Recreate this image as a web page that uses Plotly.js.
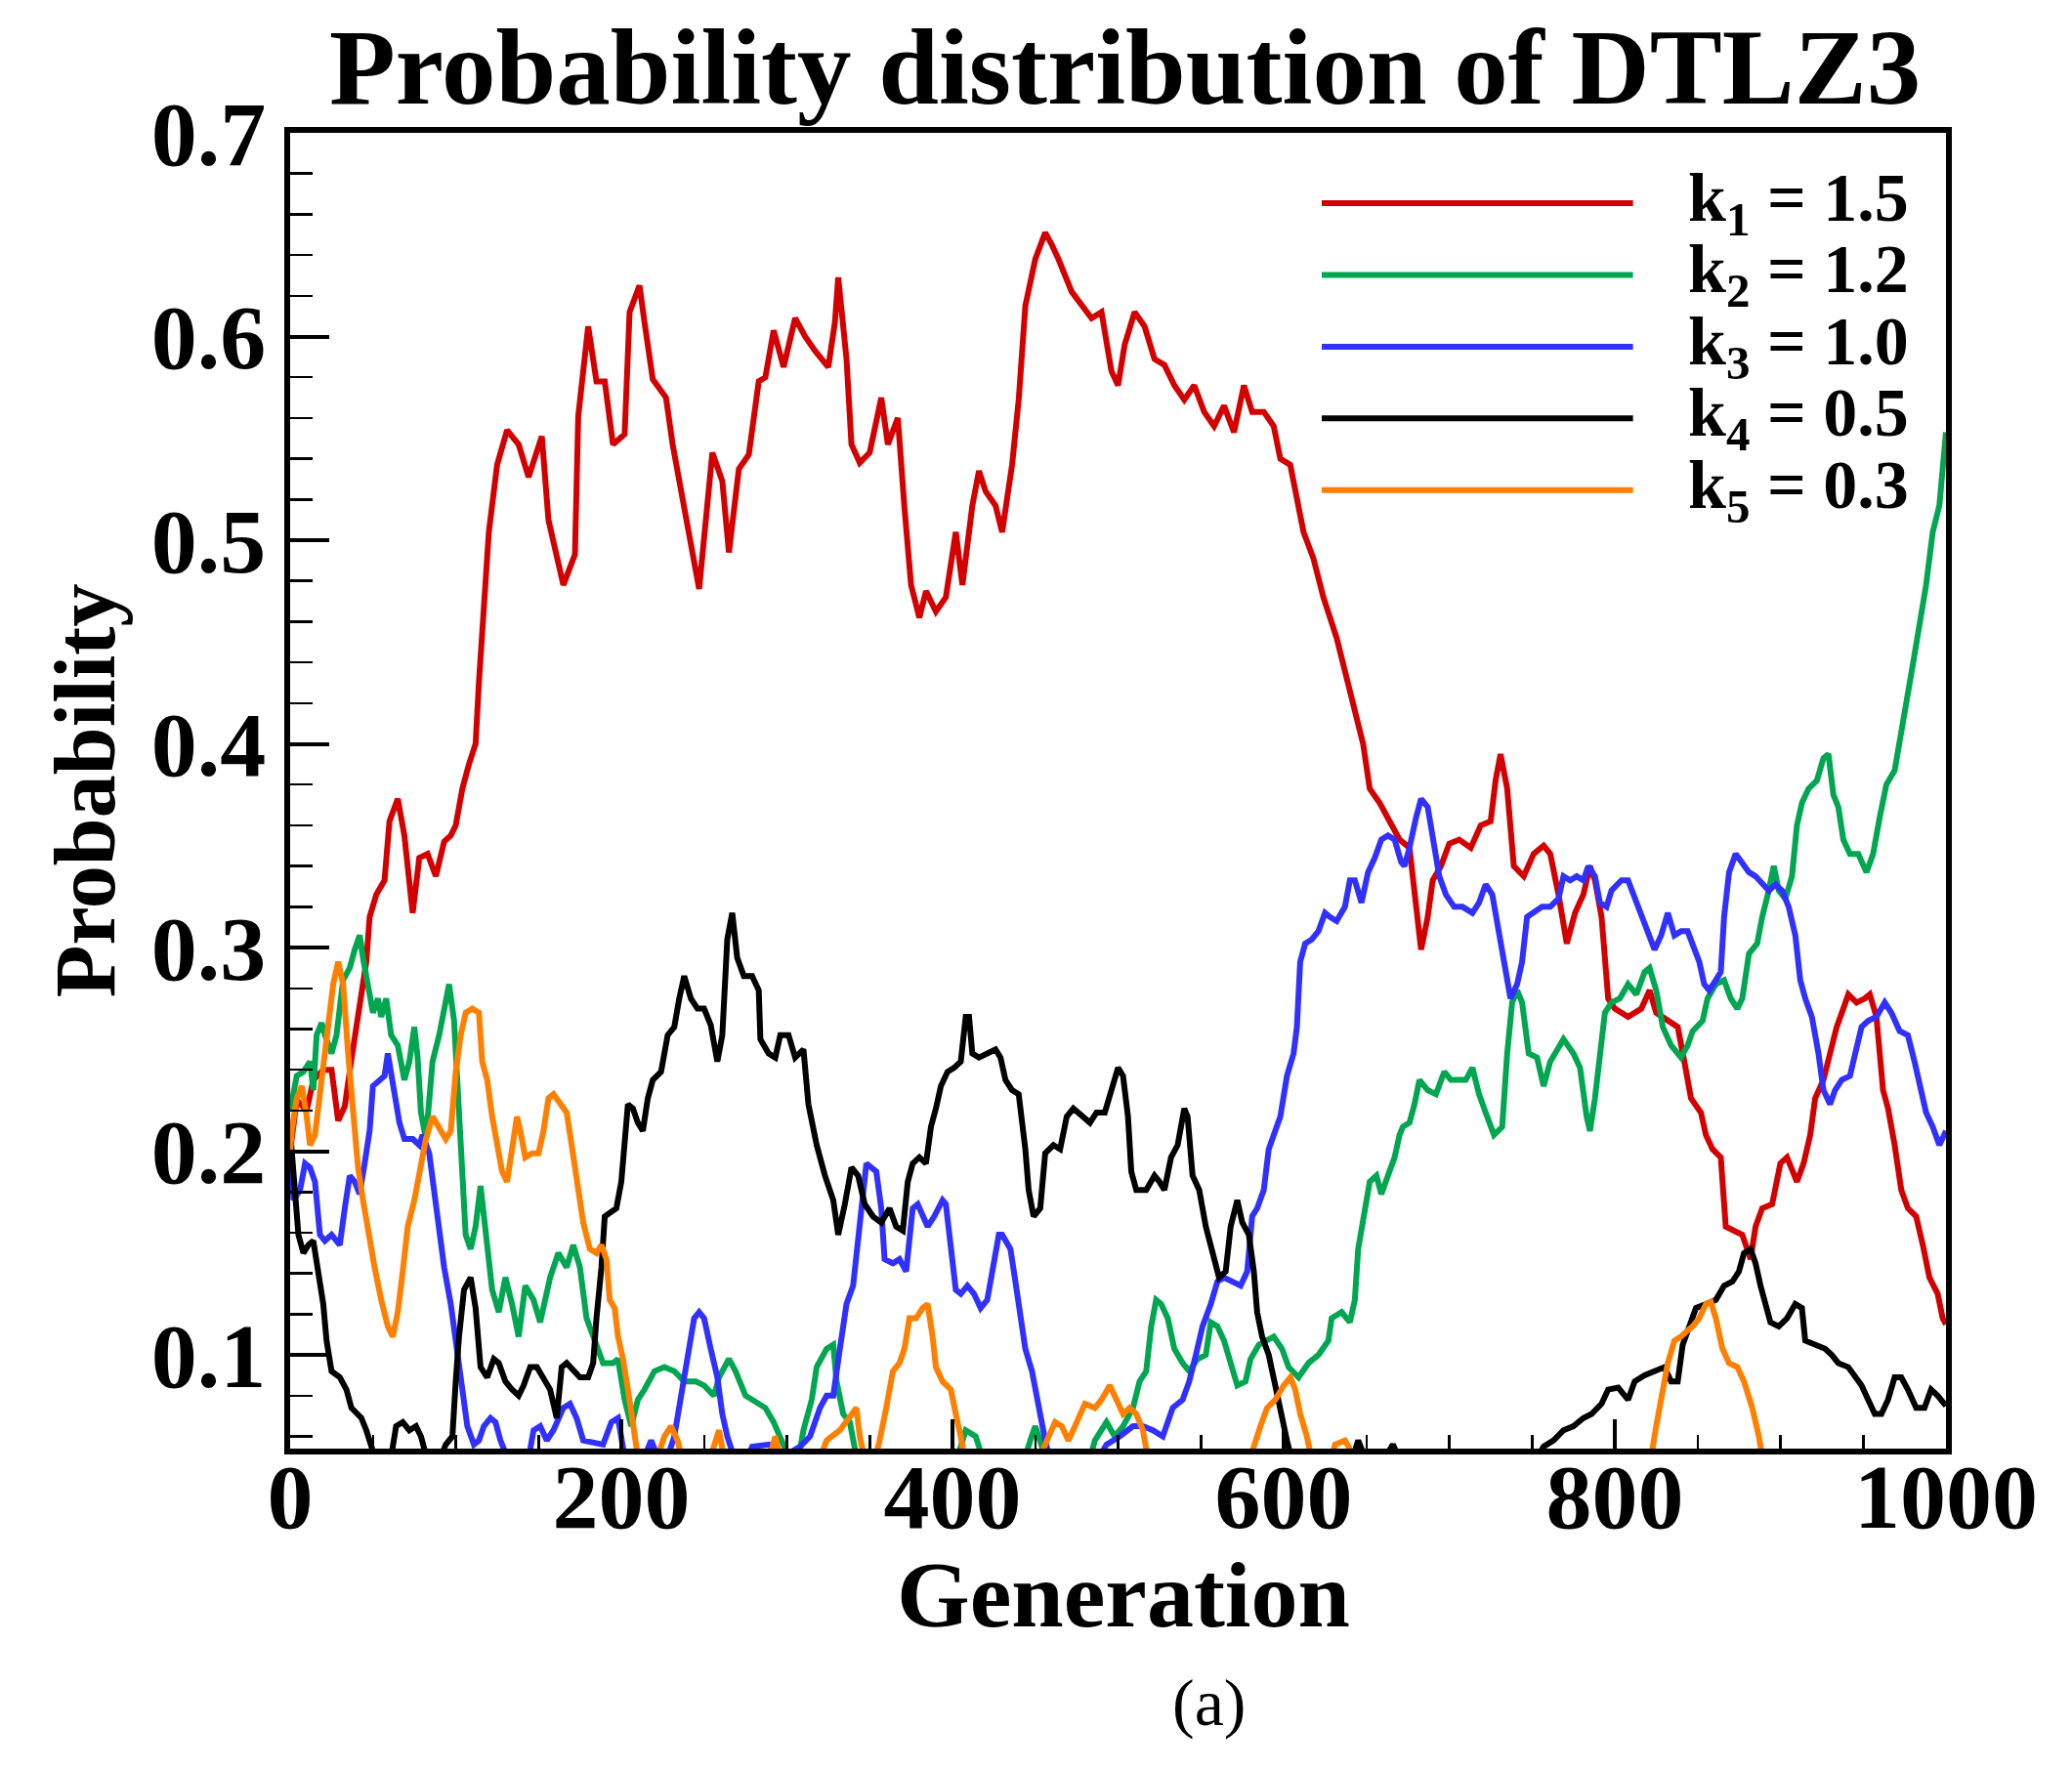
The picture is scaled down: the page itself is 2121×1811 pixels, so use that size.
<!DOCTYPE html>
<html>
<head>
<meta charset="utf-8">
<script src="https://cdn.plot.ly/plotly-3.0.1.min.js"></script>
<style>
  html, body { margin: 0; padding: 0; background: #ffffff; }
  #chart { width: 2121px; height: 1811px; }
</style>
</head>
<body>
<div id="chart"></div>
<script>
// generation -> probability, one pair of arrays per k
// (values a bit below 0.05 stand for the parts that run under the bottom axis)
const redGen = [0,4,10,14,20,25,29,33,37,43,46,48,52,57,60,65,69,74,78,83,88,93,97,100,104,108,112,114,120,125,131,138,144,152,156,165,172,174,180,185,190,195,202,205,211,214,219,227,231,238,247,255,261,265,271,277,283,287,292,298,305,311,317,325,329,331,336,339,344,350,354,357,361,367,371,375,380,384,390,396,402,406,412,416,420,426,430,436,440,444,450,456,460,464,472,478,484,490,496,500,504,510,516,522,528,534,540,546,552,558,564,570,576,581,588,594,598,604,612,618,624,632,640,648,652,658,664,670,676,680,683,687,690,695,700,706,713,719,725,728,731,735,739,745,751,757,761,766,771,776,781,785,788,792,796,800,808,816,821,825,832,838,842,846,852,855,859,864,867,873,877,882,885,889,895,900,904,910,914,918,921,926,930,934,938,941,946,951,954,958,962,965,969,973,977,982,986,990,995,998,1000];
const redProb = [0.200,0.225,0.220,0.235,0.240,0.240,0.215,0.222,0.245,0.275,0.293,0.315,0.326,0.333,0.362,0.373,0.355,0.317,0.344,0.346,0.335,0.352,0.355,0.360,0.378,0.390,0.400,0.430,0.504,0.537,0.554,0.547,0.531,0.551,0.510,0.478,0.493,0.561,0.605,0.578,0.578,0.547,0.552,0.612,0.625,0.607,0.579,0.570,0.547,0.516,0.476,0.543,0.529,0.494,0.535,0.542,0.578,0.580,0.603,0.585,0.609,0.600,0.593,0.585,0.607,0.629,0.589,0.547,0.538,0.543,0.560,0.570,0.547,0.560,0.516,0.478,0.462,0.475,0.465,0.472,0.504,0.478,0.517,0.534,0.524,0.517,0.504,0.537,0.569,0.615,0.638,0.651,0.645,0.638,0.622,0.615,0.609,0.612,0.583,0.576,0.596,0.612,0.605,0.589,0.586,0.576,0.569,0.576,0.563,0.556,0.566,0.553,0.576,0.563,0.563,0.556,0.540,0.537,0.504,0.491,0.472,0.452,0.426,0.400,0.378,0.371,0.362,0.353,0.349,0.317,0.299,0.315,0.333,0.340,0.351,0.353,0.349,0.360,0.362,0.382,0.395,0.378,0.340,0.335,0.346,0.350,0.346,0.326,0.302,0.317,0.326,0.340,0.333,0.315,0.275,0.270,0.266,0.270,0.279,0.268,0.264,0.261,0.244,0.226,0.219,0.208,0.201,0.197,0.163,0.161,0.159,0.147,0.163,0.172,0.174,0.194,0.197,0.185,0.194,0.208,0.226,0.235,0.248,0.261,0.270,0.277,0.273,0.275,0.277,0.266,0.230,0.221,0.203,0.181,0.172,0.168,0.154,0.138,0.130,0.118,0.115];

const greenGen = [0,4,8,12,14,16,19,21,25,28,32,36,39,42,44,47,50,53,55,58,61,65,69,72,75,77,79,82,86,90,94,96,99,101,103,106,109,112,115,118,122,126,130,134,138,142,147,151,157,162,167,171,175,179,183,186,189,195,198,202,206,210,214,220,226,232,238,245,250,256,259,265,269,275,281,287,292,297,301,305,310,315,318,324,328,330,334,338,342,348,400,405,408,414,418,424,440,447,450,456,462,480,486,493,498,503,509,513,517,520,523,526,530,534,539,543,548,553,556,560,564,568,572,577,580,585,590,594,599,603,609,615,621,627,629,635,640,643,645,649,652,656,659,663,667,670,672,676,679,682,687,692,697,701,706,710,714,718,722,727,732,735,738,741,744,748,753,757,761,769,775,779,783,785,788,791,794,798,803,808,813,818,821,825,829,834,840,844,847,853,856,861,866,870,874,877,881,886,889,893,896,899,903,907,910,913,917,922,926,929,932,935,938,942,947,952,956,960,964,969,972,976,980,984,988,992,996,1000];
const greenProb = [0.220,0.237,0.239,0.244,0.230,0.257,0.263,0.257,0.248,0.257,0.284,0.290,0.299,0.306,0.295,0.282,0.268,0.275,0.266,0.275,0.257,0.252,0.235,0.244,0.261,0.246,0.219,0.206,0.244,0.257,0.275,0.282,0.264,0.230,0.199,0.159,0.152,0.163,0.183,0.163,0.132,0.121,0.138,0.125,0.109,0.134,0.127,0.116,0.138,0.150,0.143,0.154,0.143,0.118,0.109,0.103,0.096,0.096,0.098,0.078,0.065,0.078,0.083,0.092,0.094,0.092,0.087,0.087,0.085,0.080,0.089,0.098,0.092,0.080,0.077,0.074,0.067,0.058,0.050,0.040,0.063,0.078,0.094,0.103,0.105,0.087,0.071,0.067,0.050,0.040,0.040,0.055,0.063,0.060,0.050,0.040,0.040,0.058,0.065,0.050,0.040,0.040,0.058,0.067,0.060,0.065,0.074,0.087,0.092,0.114,0.127,0.125,0.118,0.103,0.096,0.092,0.098,0.100,0.116,0.114,0.107,0.096,0.085,0.087,0.098,0.105,0.107,0.109,0.103,0.094,0.089,0.096,0.100,0.107,0.118,0.121,0.116,0.127,0.152,0.172,0.185,0.188,0.179,0.188,0.197,0.208,0.212,0.214,0.223,0.235,0.230,0.228,0.239,0.235,0.235,0.235,0.241,0.228,0.219,0.208,0.212,0.248,0.273,0.279,0.273,0.248,0.246,0.232,0.244,0.255,0.248,0.241,0.217,0.210,0.226,0.248,0.268,0.273,0.275,0.282,0.277,0.288,0.290,0.279,0.261,0.252,0.246,0.252,0.259,0.264,0.275,0.282,0.284,0.275,0.270,0.275,0.297,0.302,0.315,0.328,0.340,0.328,0.324,0.335,0.360,0.371,0.378,0.382,0.393,0.395,0.375,0.369,0.353,0.346,0.346,0.337,0.346,0.364,0.380,0.387,0.400,0.420,0.439,0.458,0.478,0.504,0.517,0.553];

const blueGen = [0,2,6,9,12,15,18,21,25,30,33,36,39,42,45,48,50,54,57,59,62,66,69,74,78,80,84,87,90,93,97,100,103,107,111,114,117,121,124,127,131,135,142,147,151,155,159,165,169,173,177,183,189,194,198,202,208,214,218,222,228,232,235,240,244,247,250,254,258,261,264,268,274,279,289,298,308,314,320,324,328,332,336,340,343,345,348,351,354,357,359,364,368,372,374,376,379,382,385,389,394,396,399,402,405,409,413,417,421,424,428,430,435,438,441,444,448,452,456,460,470,485,493,501,509,515,521,527,533,539,543,547,551,556,560,564,569,574,578,581,584,588,591,594,598,602,606,608,610,613,617,621,625,628,632,637,640,643,647,651,655,659,663,667,671,673,676,680,683,687,690,694,698,703,708,714,718,722,726,730,733,737,741,744,747,751,756,761,766,769,773,777,781,784,788,791,795,798,804,808,812,816,820,824,828,832,836,840,844,847,851,854,857,861,864,866,869,873,877,881,885,889,893,897,901,905,909,912,915,919,923,926,930,933,937,942,945,949,953,958,963,967,972,977,981,985,988,992,996,1000];
const blueProb = [0.210,0.176,0.181,0.194,0.192,0.185,0.159,0.156,0.159,0.154,0.172,0.188,0.185,0.179,0.194,0.210,0.232,0.235,0.237,0.248,0.232,0.214,0.206,0.206,0.203,0.208,0.199,0.181,0.159,0.143,0.125,0.107,0.087,0.065,0.056,0.058,0.065,0.069,0.067,0.058,0.050,0.040,0.040,0.063,0.065,0.058,0.063,0.074,0.076,0.069,0.058,0.057,0.056,0.067,0.069,0.050,0.040,0.050,0.058,0.050,0.050,0.060,0.074,0.100,0.118,0.121,0.118,0.103,0.089,0.071,0.060,0.050,0.045,0.055,0.056,0.050,0.055,0.060,0.074,0.080,0.080,0.103,0.125,0.134,0.159,0.176,0.194,0.192,0.190,0.172,0.147,0.145,0.147,0.141,0.154,0.172,0.174,0.168,0.163,0.168,0.176,0.174,0.154,0.132,0.130,0.134,0.130,0.123,0.127,0.141,0.159,0.159,0.152,0.136,0.118,0.103,0.092,0.074,0.058,0.045,0.040,0.045,0.056,0.060,0.065,0.065,0.063,0.060,0.074,0.078,0.087,0.100,0.114,0.125,0.136,0.138,0.136,0.134,0.141,0.168,0.172,0.181,0.201,0.208,0.217,0.237,0.248,0.261,0.293,0.302,0.304,0.308,0.317,0.315,0.313,0.320,0.333,0.333,0.322,0.337,0.344,0.353,0.355,0.353,0.342,0.340,0.349,0.364,0.373,0.369,0.353,0.335,0.326,0.320,0.320,0.317,0.322,0.331,0.326,0.306,0.293,0.275,0.282,0.293,0.315,0.317,0.320,0.320,0.324,0.335,0.333,0.335,0.333,0.340,0.335,0.322,0.320,0.328,0.333,0.333,0.324,0.315,0.306,0.299,0.306,0.317,0.306,0.308,0.308,0.302,0.293,0.282,0.279,0.284,0.288,0.315,0.337,0.346,0.342,0.337,0.335,0.331,0.328,0.331,0.328,0.320,0.306,0.284,0.275,0.266,0.248,0.230,0.223,0.230,0.235,0.237,0.248,0.261,0.264,0.266,0.273,0.268,0.259,0.257,0.244,0.230,0.219,0.212,0.203,0.210];

const blackGen = [0,1,3,5,8,11,14,17,20,22,25,30,34,37,40,43,46,49,53,60,64,68,72,76,79,83,90,94,98,100,102,105,109,112,115,119,123,126,130,134,138,141,145,149,153,157,161,164,167,171,175,180,183,185,188,190,193,197,200,202,204,207,210,213,216,219,224,228,232,235,238,242,246,250,254,258,261,264,267,270,274,279,283,284,289,293,296,301,305,310,313,318,323,328,331,335,339,343,347,352,357,362,366,370,373,376,380,384,387,390,393,397,401,405,408,410,412,416,421,426,429,432,436,440,444,446,449,453,456,461,465,469,473,478,483,487,492,496,500,503,506,508,511,517,522,525,528,532,536,540,542,545,549,553,557,561,565,568,572,575,579,582,584,587,591,595,598,602,606,640,645,649,660,666,672,750,757,763,769,775,781,786,792,796,802,808,812,818,824,830,834,838,841,844,849,855,861,866,871,875,878,882,885,888,891,894,899,904,909,913,915,921,927,931,935,941,945,949,953,957,961,965,969,973,977,982,987,991,995,1000];
const blackProb = [0.210,0.199,0.176,0.159,0.150,0.154,0.156,0.141,0.125,0.107,0.092,0.089,0.083,0.074,0.071,0.069,0.063,0.056,0.045,0.045,0.065,0.067,0.063,0.065,0.060,0.048,0.048,0.056,0.060,0.087,0.109,0.132,0.138,0.123,0.094,0.089,0.098,0.096,0.087,0.083,0.080,0.085,0.094,0.094,0.089,0.083,0.069,0.094,0.096,0.092,0.089,0.089,0.096,0.118,0.143,0.168,0.170,0.172,0.185,0.208,0.223,0.221,0.214,0.210,0.226,0.235,0.239,0.257,0.261,0.275,0.286,0.275,0.270,0.270,0.262,0.244,0.257,0.304,0.317,0.295,0.286,0.286,0.279,0.255,0.248,0.246,0.257,0.257,0.246,0.250,0.223,0.203,0.188,0.176,0.159,0.174,0.192,0.188,0.174,0.168,0.165,0.172,0.163,0.161,0.185,0.194,0.197,0.194,0.212,0.221,0.232,0.239,0.241,0.244,0.266,0.266,0.248,0.246,0.248,0.250,0.246,0.235,0.230,0.228,0.201,0.181,0.168,0.172,0.199,0.203,0.201,0.217,0.221,0.217,0.214,0.219,0.219,0.230,0.241,0.237,0.217,0.190,0.181,0.181,0.188,0.185,0.181,0.197,0.203,0.221,0.217,0.188,0.181,0.163,0.150,0.138,0.141,0.163,0.176,0.165,0.159,0.141,0.121,0.109,0.100,0.085,0.071,0.058,0.045,0.045,0.058,0.050,0.048,0.056,0.045,0.045,0.055,0.058,0.063,0.065,0.069,0.071,0.076,0.083,0.084,0.078,0.087,0.090,0.092,0.094,0.087,0.087,0.105,0.112,0.123,0.125,0.127,0.134,0.136,0.141,0.150,0.152,0.145,0.134,0.125,0.116,0.114,0.118,0.125,0.123,0.107,0.105,0.103,0.100,0.096,0.094,0.089,0.085,0.078,0.071,0.071,0.078,0.089,0.089,0.083,0.074,0.074,0.083,0.080,0.075];

const orangeGen = [0,1,4,7,10,12,15,18,21,23,26,29,32,35,38,41,44,47,51,55,59,62,65,68,71,75,79,82,86,90,94,97,100,103,106,110,114,116,119,122,125,128,131,134,137,139,142,146,150,153,156,159,163,167,170,173,177,181,185,188,191,193,196,198,201,204,207,210,215,222,226,230,234,238,252,259,263,288,293,297,318,324,332,338,342,344,348,352,356,360,364,368,371,374,378,382,385,388,390,394,399,402,405,408,450,456,462,466,470,474,480,486,490,495,499,503,507,511,515,519,578,582,586,590,595,600,604,607,610,614,618,628,631,637,643,650,815,822,825,829,832,836,840,844,847,851,855,858,861,865,869,874,878,883,887,890,1000];
const orangeProb = [0.200,0.210,0.226,0.232,0.217,0.203,0.208,0.228,0.244,0.259,0.282,0.293,0.282,0.248,0.221,0.192,0.176,0.161,0.143,0.127,0.114,0.109,0.121,0.141,0.163,0.176,0.192,0.206,0.217,0.212,0.206,0.210,0.239,0.257,0.268,0.270,0.268,0.244,0.235,0.217,0.203,0.190,0.185,0.199,0.217,0.210,0.197,0.199,0.199,0.210,0.226,0.228,0.223,0.219,0.203,0.188,0.165,0.152,0.150,0.154,0.147,0.127,0.123,0.109,0.098,0.083,0.065,0.050,0.040,0.050,0.060,0.065,0.058,0.045,0.045,0.063,0.045,0.045,0.060,0.045,0.045,0.058,0.063,0.069,0.074,0.060,0.045,0.045,0.058,0.074,0.092,0.096,0.103,0.118,0.118,0.123,0.125,0.109,0.094,0.087,0.083,0.071,0.060,0.045,0.045,0.056,0.067,0.065,0.058,0.065,0.076,0.074,0.078,0.085,0.078,0.071,0.074,0.071,0.063,0.045,0.045,0.056,0.065,0.074,0.078,0.085,0.089,0.083,0.071,0.060,0.045,0.045,0.056,0.058,0.050,0.040,0.040,0.050,0.065,0.083,0.096,0.107,0.109,0.112,0.114,0.118,0.125,0.126,0.118,0.103,0.096,0.094,0.087,0.074,0.060,0.045,0.040];

const legendLabels = ['k<sub>1</sub> = 1.5', 'k<sub>2</sub> = 1.2', 'k<sub>3</sub> = 1.0', 'k<sub>4</sub> = 0.5', 'k<sub>5</sub> = 0.3'];
const lineColors = ['#d40000', '#00a650', '#3030ff', '#000000', '#ff7f00'];
const seriesX = [redGen, greenGen, blueGen, blackGen, orangeGen];
const seriesY = [redProb, greenProb, blueProb, blackProb, orangeProb];

const FONT = '"Liberation Serif", "Times New Roman", serif';
const LINE_W = 6;

const traces = seriesX.map((xs, i) => ({
    x: xs, y: seriesY[i],
    type: 'scatter', mode: 'lines',
    name: legendLabels[i],
    line: { color: lineColors[i], width: LINE_W },
    showlegend: false,
}));

// legend drawn by hand: long sample lines like the original, labels to the right
const legTop = 0.9465, legStep = 0.0545;
const shapes = [];
const annotations = [];
legendLabels.forEach((lab, i) => {
    const yy = legTop - i * legStep;
    shapes.push({
        type: 'line', xref: 'paper', yref: 'paper',
        x0: 0.623, x1: 0.811, y0: yy, y1: yy,
        line: { color: lineColors[i], width: LINE_W },
    });
    annotations.push({
        xref: 'paper', yref: 'paper', x: 0.843, y: yy,
        xanchor: 'left', yanchor: 'middle', showarrow: false,
        text: lab,
        font: { family: FONT, size: 70, weight: 'bold', color: '#000' },
    });
});
// x-axis title placed as an annotation so it can sit close under the tick labels
annotations.push({
    xref: 'paper', yref: 'paper', x: 0.503, y: -0.111,
    xanchor: 'center', yanchor: 'middle', showarrow: false,
    text: 'Generation',
    font: { family: FONT, size: 96, weight: 'bold', color: '#000' },
});
annotations.push({
    xref: 'paper', yref: 'paper', x: 0.555, y: -0.193,
    xanchor: 'center', yanchor: 'middle', showarrow: false,
    text: '(a)',
    font: { family: FONT, size: 68, color: '#000' },
});

const axisCommon = {
    showgrid: false, zeroline: false,
    showline: true, mirror: true, linecolor: '#000', linewidth: 6,
    ticks: 'inside', tickcolor: '#000', tickwidth: 4,
    tickfont: { family: FONT, size: 94, weight: 'bold', color: '#000' },
    automargin: false,
};

const layout = {
    width: 2121, height: 1811,
    paper_bgcolor: '#ffffff', plot_bgcolor: '#ffffff',
    margin: { l: 297, r: 129, t: 136, b: 328 },
    font: { family: FONT, color: '#000' },
    title: {
        text: 'Probability distribution of DTLZ3',
        font: { family: FONT, size: 111, weight: 'bold', color: '#000' },
        xref: 'container', x: 0.543, xanchor: 'center',
        yref: 'container', y: 0.963, yanchor: 'middle',
    },
    xaxis: Object.assign({}, axisCommon, {
        range: [0, 1000], tick0: 0, dtick: 200, ticklen: 30,
        ticklabelstandoff: -38,
        minor: { dtick: 50, ticks: 'inside', ticklen: 14, tickwidth: 2.5, tickcolor: '#000' },
    }),
    yaxis: Object.assign({}, axisCommon, {
        range: [0.054, 0.7], tick0: 0, dtick: 0.1, ticklen: 40, tickformat: '.1f',
        ticklabelstandoff: 0,
        minor: { dtick: 0.02, ticks: 'inside', ticklen: 23, tickwidth: 2.5, tickcolor: '#000' },
        title: { text: 'Probability', standoff: 10,
                 font: { family: FONT, size: 88, weight: 'bold', color: '#000' } },
    }),
    shapes,
    annotations,
    showlegend: false,
};

Plotly.newPlot('chart', traces, layout, { displayModeBar: false, staticPlot: true });
</script>
</body>
</html>
